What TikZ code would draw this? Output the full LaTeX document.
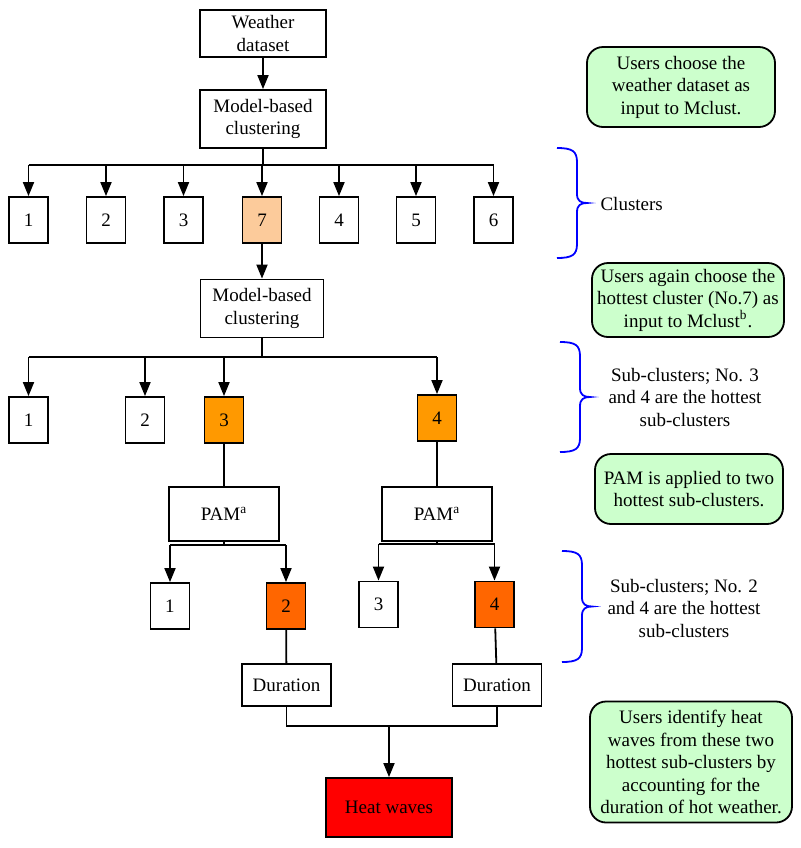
\documentclass[tikz,border=0pt]{standalone}
\usepackage{fontspec}
\setmainfont{Liberation Serif}
\usepackage{tikz}
\usetikzlibrary{arrows.meta}

\definecolor{paleorange}{RGB}{252,203,155}
\definecolor{midorange}{RGB}{255,153,0}
\definecolor{darkorange}{RGB}{255,102,0}
\definecolor{notegreen}{RGB}{204,255,204}

% blue brace: left end x, top y, bottom y
\newcommand{\bluebrace}[3]{%
  \draw[blue, line width=0.9pt]
    (#1,#2) .. controls ({#1+15},#2) and ({#1+20},{#2+3}) .. ({#1+20},{#2+14})
    -- ({#1+20},{(#2+#3)/2-9})
    .. controls ({#1+20},{(#2+#3)/2-2}) and ({#1+24},{(#2+#3)/2}) .. ({#1+30},{(#2+#3)/2})
    .. controls ({#1+24},{(#2+#3)/2}) and ({#1+20},{(#2+#3)/2+2}) .. ({#1+20},{(#2+#3)/2+9})
    -- ({#1+20},{#3-14})
    .. controls ({#1+20},{#3-3}) and ({#1+15},#3) .. (#1,#3);}

\begin{document}
\begin{tikzpicture}[x=0.5pt, y=-0.5pt, line width=0.9pt,
    font=\fontsize{9.5}{11.25}\selectfont,
    box/.style={draw, inner sep=0pt, align=center, minimum width=63pt, minimum height=29pt},
    num/.style={draw, inner sep=0pt, minimum width=19.5pt, minimum height=23pt},
    note/.style={draw, fill=notegreen, rounded corners=8pt, inner sep=0pt, align=center},
    arr/.style={-{Triangle[length=7pt,width=5.5pt]}}]
    \useasboundingbox (0,0) rectangle (800,848);

    % Top
    \node[box, minimum height=23.5pt] (wd) at (263,33.5) {Weather\\dataset};
    \node[box] (mb1) at (263,119) {Model-based\\clustering};
    \draw[arr] (wd) -- (mb1);

    % Clusters
    \coordinate (bus1) at (263,165);
    \node[num] (c1) at (28.5,220) {1};
    \node[num] (c2) at (106,220) {2};
    \node[num] (c3) at (183.5,220) {3};
    \node[num, fill=paleorange] (c7) at (262,220) {7};
    \node[num] (c4) at (339,220) {4};
    \node[num] (c5) at (416,220) {5};
    \node[num] (c6) at (493.5,220) {6};
    \draw (mb1) -- (bus1);
    \draw (bus1 -| c1) -- (bus1 -| c6);
    \foreach \n in {c1,c2,c3,c7,c4,c5,c6}
        \draw[arr] (bus1 -| \n) -- (\n);

    % Sub-clusters
    \node[box, minimum width=61.5pt] (mb2) at (262,308.5) {Model-based\\clustering};
    \draw[arr] (c7) -- (mb2);
    \coordinate (bus2) at (262,357);
    \node[num] (s1) at (28.5,420) {1};
    \node[num] (s2) at (145,420) {2};
    \node[num, fill=midorange] (s3) at (224,420) {3};
    \node[num, fill=midorange] (s4) at (437,418) {4};
    \draw (mb2) -- (bus2);
    \draw (bus2 -| s1) -- (bus2 -| s4);
    \foreach \n in {s1,s2,s3,s4}
        \draw[arr] (bus2 -| \n) -- (\n);

    % PAM
    \node[box, minimum width=55pt, minimum height=27pt] (pam1) at (224,514) {PAM\textsuperscript{a}};
    \node[box, minimum width=55pt, minimum height=27pt] (pam2) at (437,514) {PAM\textsuperscript{a}};
    \draw (s3) -- (pam1);
    \draw (s4) -- (pam2);
    \coordinate (bus3) at (224,545);
    \coordinate (bus4) at (437,544);
    \node[num] (t1) at (170,606) {1};
    \node[num, fill=darkorange] (t2) at (286,606) {2};
    \node[num] (t3) at (378.5,604.5) {3};
    \node[num, fill=darkorange] (t4) at (494.5,604.5) {4};
    \draw (pam1) -- (bus3);
    \draw (pam2) -- (bus4);
    \draw (bus3 -| t1) -- (bus3 -| t2);
    \draw (bus4 -| t3) -- (bus4 -| t4);
    \foreach \n in {t1,t2}
        \draw[arr] (bus3 -| \n) -- (\n);
    \foreach \n in {t3,t4}
        \draw[arr] (bus4 -| \n) -- (\n);

    % Duration and heat waves
    \node[box, minimum width=44.5pt, minimum height=21pt] (dur1) at (286.5,685) {Duration};
    \node[box, minimum width=44.5pt, minimum height=21pt] (dur2) at (497,685) {Duration};
    \draw (t2) -- (dur1);
    \draw (t4) -- (dur2);
    \coordinate (join) at (389,726);
    \node[box, fill=red, minimum height=29.5pt] (hw) at (389,807.5) {Heat waves};
    \draw (dur1) |- (join) -| (dur2);
    \draw[arr] (join) -- (hw);

    % Notes
    \node[note, minimum width=94pt, minimum height=40pt] (g1) at (681,87)
        {Users choose the\\weather dataset as\\input to Mclust.};
    \node[note, minimum width=96pt, minimum height=37pt] (g2) at (688,300)
        {Users again choose the\\hottest cluster (No.7) as\\input to Mclust\textsuperscript{b}.};
    \node[note, minimum width=94pt, minimum height=35pt] (g3) at (689,489)
        {PAM is applied to two\\hottest sub-clusters.};
    \node[note, minimum width=101pt, minimum height=60.5pt] (g4) at (691,762)
        {Users identify heat\\waves from these two\\hottest sub-clusters by\\accounting for the\\duration of hot weather.};

    % Braces
    \bluebrace{557}{148}{258}
    \node[anchor=west] (lab1) at (593,204) {Clusters};
    \bluebrace{560}{342}{452}
    \node[align=center] (lab2) at (685,397) {Sub-clusters; No. 3\\and 4 are the hottest\\sub-clusters};
    \bluebrace{562}{551}{662}
    \node[align=center] (lab3) at (684,608) {Sub-clusters; No. 2\\and 4 are the hottest\\sub-clusters};
\end{tikzpicture}
\end{document}
